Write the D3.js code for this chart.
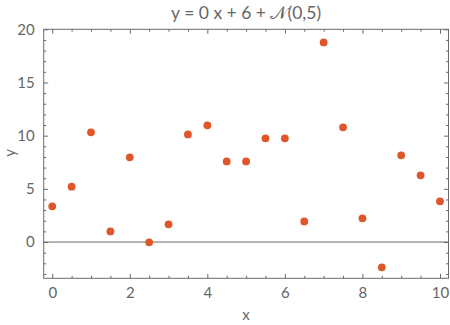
<!DOCTYPE html>
<html><head><meta charset="utf-8">
<script src="https://cdn.jsdelivr.net/npm/d3@7"></script>
<style>body{margin:0;background:#fff}svg{display:block}text{font-family:Lato,"Open Sans","DejaVu Sans",sans-serif;fill:#666}</style>
</head><body><div id="c"></div>
<script>
const xValues=[0,0.5,1,1.5,2,2.5,3,3.5,4,4.5,5,5.5,6,6.5,7,7.5,8,8.5,9,9.5,10];
const yValues=[3.36,5.20,10.31,1.00,7.96,-0.03,1.66,10.12,10.97,7.58,7.58,9.75,9.75,1.94,18.77,10.78,2.23,-2.38,8.15,6.27,3.83];
const xTicks=[0,2,4,6,8,10];
const yTicks=[0,5,10,15,20];
const title="y = 0 x + 6 + \u{1D4A9}(0,5)";

const W=450,H=325;
const m={l:43.7,r:1.5,t:29.3,b:46.7};
const svg=d3.select("#c").append("svg").attr("width",W).attr("height",H);
const x=d3.scaleLinear().domain([-0.22,10.22]).range([m.l,W-m.r]);
const y=d3.scaleLinear().domain([-3.41,20]).range([H-m.b,m.t]);
const grey="#6b6b6b";
const xMinor=d3.range(0,10.01,0.5).filter(v=>v%2!==0);
const yMinor=d3.range(-3,20.01,1).filter(v=>v%5!==0);

const g=svg.append("g");
function ax(axisFn,scale,ticks,minor,pos,labels){
  const a=g.append("g").attr("transform",pos);
  a.call(axisFn(scale).tickValues(ticks).tickSizeInner(-4.5).tickSizeOuter(0).tickPadding(9).tickFormat(labels?d3.format("d"):""));
  a.append("g").call(axisFn(scale).tickValues(minor).tickSizeInner(-2.5).tickSizeOuter(0).tickFormat(""));
  a.selectAll("path").remove();
  a.selectAll("line").attr("stroke",grey);
  a.selectAll("text").style("font-size","15px").attr("fill","#666");
  return a;
}
ax(d3.axisBottom,x,xTicks,xMinor,`translate(0,${H-m.b})`,true);
ax(d3.axisTop,x,xTicks,xMinor,`translate(0,${m.t})`,false);
ax(d3.axisLeft,y,yTicks,yMinor,`translate(${m.l},0)`,true);
ax(d3.axisRight,y,yTicks,yMinor,`translate(${W-m.r},0)`,false);

g.append("rect").attr("x",m.l).attr("y",m.t).attr("width",W-m.r-m.l).attr("height",H-m.b-m.t)
 .attr("fill","none").attr("stroke",grey).attr("stroke-width",1);
g.append("line").attr("x1",m.l).attr("x2",W-m.r).attr("y1",y(0)).attr("y2",y(0)).attr("stroke",grey).attr("stroke-width",1);

g.selectAll("circle.pt").data(xValues.map((v,i)=>[v,yValues[i]])).join("circle")
 .attr("class","pt").attr("cx",d=>x(d[0])).attr("cy",d=>y(d[1])).attr("r",3.9).attr("fill","#e0562b");

svg.append("text").attr("x",(m.l+W-m.r)/2).attr("y",19).attr("text-anchor","middle").style("font-size","17.5px").text(title);
svg.append("text").attr("x",(m.l+W-m.r)/2).attr("y",320).attr("text-anchor","middle").style("font-size","15px").text("x");
svg.append("text").attr("transform","translate(15,153) rotate(-90)").attr("text-anchor","middle").style("font-size","15px").text("y");
</script></body></html>
